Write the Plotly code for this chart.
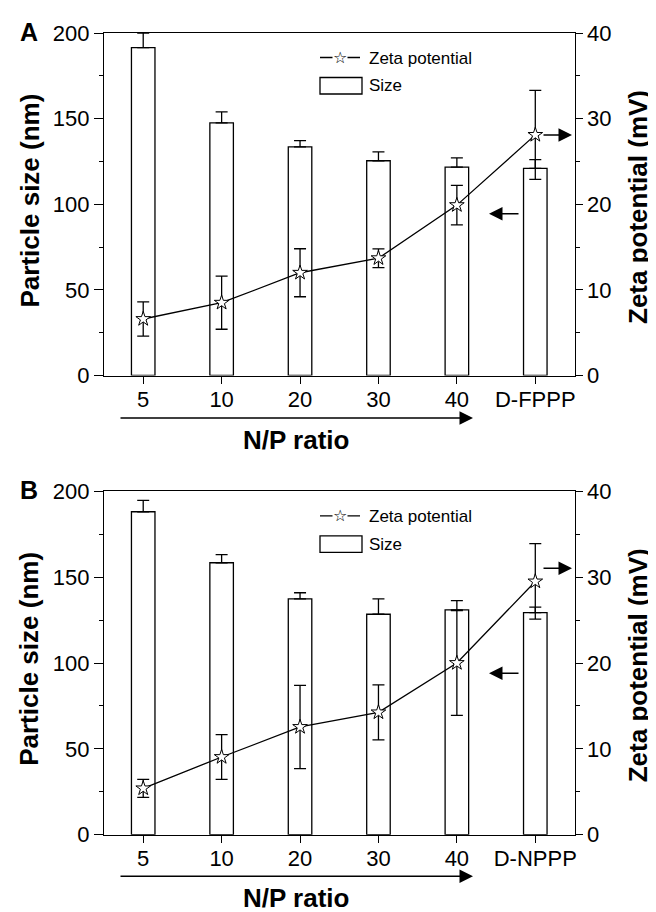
import plotly.graph_objects as go

# ---------------- data ----------------
cats_A = ["5", "10", "20", "30", "40", "D-FPPP"]
size_A = [191.5, 147.5, 133.5, 125.4, 121.7, 120.9]
size_err_A = [8.5, 6.5, 3.7, 5.2, 5.4, 5.2]
zeta_A = [6.6, 8.5, 12.0, 13.7, 19.9, 28.1]
zeta_err_A = [2.0, 3.1, 2.8, 1.1, 2.3, 5.2]

cats_B = ["5", "10", "20", "30", "40", "D-NPPP"]
size_B = [188.1, 158.4, 137.3, 128.4, 130.9, 129.3]
size_err_B = [6.6, 4.7, 3.6, 8.9, 5.4, 3.3]
zeta_B = [5.4, 9.05, 12.55, 14.25, 20.0, 29.5]
zeta_err_B = [1.05, 2.6, 4.85, 3.2, 6.1, 4.4]

left_ticks = [0, 50, 100, 150, 200]
right_ticks = [0, 10, 20, 30, 40]

W, H = 656, 912
FONT = "Liberation Sans, Arial, sans-serif"
LW = 1.3


def px(x):
    return x / W


def py(y):
    return 1 - y / H


fig = go.Figure()

panels = [
    dict(cats=cats_A, size=size_A, serr=size_err_A, zeta=zeta_A, zerr=zeta_err_A,
         xa="x", ya="y", ya2="y2"),
    dict(cats=cats_B, size=size_B, serr=size_err_B, zeta=zeta_B, zerr=zeta_err_B,
         xa="x2", ya="y3", ya2="y4"),
]

for p in panels:
    fig.add_trace(go.Bar(
        x=p["cats"], y=p["size"], width=0.3,
        marker=dict(color="white", line=dict(color="black", width=LW)),
        error_y=dict(type="data", symmetric=False, array=p["serr"],
                     arrayminus=[0] * len(p["serr"]),
                     color="black", thickness=LW, width=6),
        xaxis=p["xa"], yaxis=p["ya"], showlegend=False, name="Size"))
    fig.add_trace(go.Scatter(
        x=p["cats"], y=p["zeta"], mode="lines+markers",
        line=dict(color="black", width=LW),
        marker=dict(symbol="star", size=11, color="white",
                    line=dict(color="black", width=1)),
        error_y=dict(type="data", array=p["zerr"], color="black",
                     thickness=LW, width=6),
        xaxis=p["xa"], yaxis=p["ya2"], showlegend=False, name="Zeta potential"))

x_dom = [px(96), px(566.5)]
dom_A = [py(367.5), py(25)]
dom_B = [py(826.7), py(483.3)]

common_x = dict(type="category", range=[-0.5, 5.5], showline=True, linecolor="black",
                linewidth=LW, mirror=True, ticks="outside", ticklen=7, tickwidth=LW,
                tickcolor="black", tickfont=dict(family=FONT, size=22, color="black"),
                ticklabelstandoff=-3,
                showgrid=False, zeroline=False, domain=x_dom, automargin=False)


def yax(rng, tv, minor_dt, dom=None, tl=9, **kw):
    d = dict(range=rng, tickvals=tv, showline=True, linecolor="black", linewidth=LW,
             ticks="outside", ticklen=tl, tickwidth=LW, tickcolor="black",
             minor=dict(dtick=minor_dt, ticklen=4, ticks="outside", tickwidth=LW,
                        tickcolor="black", showgrid=False),
             tickfont=dict(family=FONT, size=22, color="black"),
             showgrid=False, zeroline=False, automargin=False)
    if dom is not None:
        d["domain"] = dom
    d.update(kw)
    return d


fig.update_layout(
    width=W, height=H, margin=dict(l=0, r=0, t=0, b=0),
    paper_bgcolor="white", plot_bgcolor="rgba(0,0,0,0)",
    barmode="overlay",
    xaxis=dict(common_x, anchor="y"),
    yaxis=yax([0, 200], left_ticks, 25, dom_A, anchor="x"),
    yaxis2=yax([0, 40], right_ticks, 5, tl=7, overlaying="y", side="right", anchor="x"),
    xaxis2=dict(common_x, anchor="y3"),
    yaxis3=yax([0, 200], left_ticks, 25, dom_B, anchor="x2"),
    yaxis4=yax([0, 40], right_ticks, 5, tl=7, overlaying="y3", side="right", anchor="x2"),
)

annotations = []
shapes = []

panel_off = [0, 458.3]
panel_letters = ["A", "B"]
right_arrow_y = [127, 560.3]
left_arrow_y = [205.7, 665.3]

for i, off in enumerate(panel_off):
    # panel letter
    annotations.append(dict(x=px(21), y=py(24 + off), xref="paper", yref="paper",
                            text="<b>%s</b>" % panel_letters[i], showarrow=False,
                            font=dict(family=FONT, size=25, color="black"),
                            xanchor="center", yanchor="middle"))
    # left axis title
    annotations.append(dict(x=px(21.5), y=py(193 + off), xref="paper", yref="paper",
                            text="<b>Particle size (nm)</b>", textangle=-90, showarrow=False,
                            font=dict(family=FONT, size=26, color="black"),
                            xanchor="center", yanchor="middle"))
    # right axis title
    annotations.append(dict(x=px(630), y=py(199 + off), xref="paper", yref="paper",
                            text="<b>Zeta potential (mV)</b>", textangle=-90, showarrow=False,
                            font=dict(family=FONT, size=26, color="black"),
                            xanchor="center", yanchor="middle"))
    # x title
    annotations.append(dict(x=px(288), y=py(432 + off), xref="paper", yref="paper",
                            text="<b>N/P ratio</b>", showarrow=False,
                            font=dict(family=FONT, size=26, color="black"),
                            xanchor="center", yanchor="middle"))
    # x arrow
    annotations.append(dict(x=px(465), y=py(410 + off), xref="paper", yref="paper",
                            ax=-354, ay=0, axref="pixel", ayref="pixel", text="",
                            showarrow=True, arrowhead=2, arrowsize=1.8, arrowwidth=1.5,
                            arrowcolor="black"))
    # right-pointing arrow (zeta -> right axis)
    annotations.append(dict(x=px(564), y=py(right_arrow_y[i]), xref="paper", yref="paper",
                            ax=-30, ay=0, text="", showarrow=True, arrowhead=2,
                            arrowsize=1.8, arrowwidth=1.5, arrowcolor="black"))
    # left-pointing arrow (size -> left axis)
    annotations.append(dict(x=px(481), y=py(left_arrow_y[i]), xref="paper", yref="paper",
                            ax=31, ay=0, text="", showarrow=True, arrowhead=2,
                            arrowsize=1.8, arrowwidth=1.5, arrowcolor="black"))
    # legend
    shapes.append(dict(type="line", xref="paper", yref="paper",
                       x0=px(312), x1=px(352), y0=py(49.5 + off), y1=py(49.5 + off),
                       line=dict(color="black", width=LW)))
    annotations.append(dict(x=px(332), y=py(49.5 + off), xref="paper", yref="paper",
                            text="☆", showarrow=False, bgcolor="white", borderpad=0,
                            font=dict(family="DejaVu Sans", size=16, color="black"),
                            xanchor="center", yanchor="middle"))
    annotations.append(dict(x=px(359), y=py(50 + off), xref="paper", yref="paper",
                            text="Zeta potential", showarrow=False,
                            font=dict(family=FONT, size=17, color="black"),
                            xanchor="left", yanchor="middle"))
    shapes.append(dict(type="rect", xref="paper", yref="paper",
                       x0=px(312), x1=px(354), y0=py(86 + off), y1=py(69.5 + off),
                       line=dict(color="black", width=LW), fillcolor="white"))
    annotations.append(dict(x=px(359), y=py(78 + off), xref="paper", yref="paper",
                            text="Size", showarrow=False,
                            font=dict(family=FONT, size=17, color="black"),
                            xanchor="left", yanchor="middle"))

fig.update_layout(annotations=annotations, shapes=shapes)

fig.write_html("out.html")
